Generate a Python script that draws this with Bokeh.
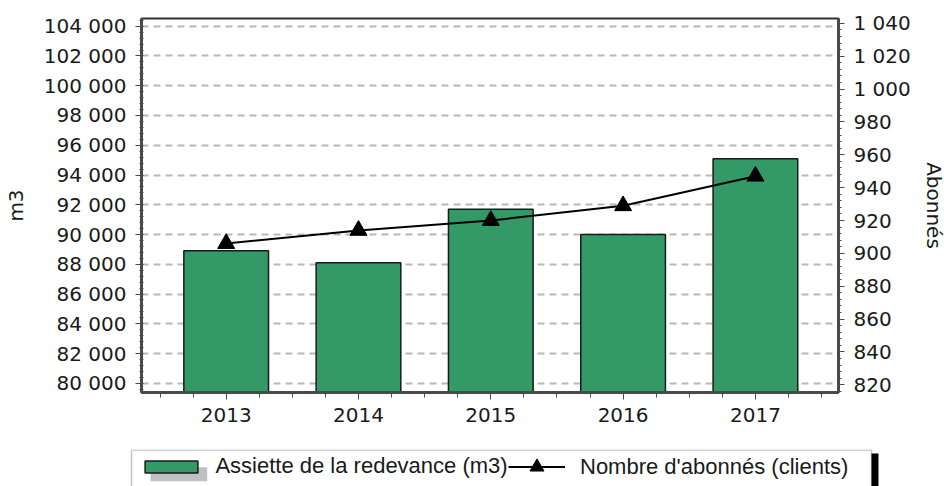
from bokeh.plotting import figure
from bokeh.layouts import column
from bokeh.models import (Range1d, LinearAxis, SingleIntervalTicker, FixedTicker,
                          CustomJSTickFormatter, Legend, LegendItem, BoxAnnotation,
                          ColumnDataSource)
from bokeh.embed import file_html
from bokeh.resources import INLINE

# ---- data ----
years = ["2013", "2014", "2015", "2016", "2017"]
assiette_m3 = [88900, 88100, 91700, 90000, 95100]      # bars, left axis
abonnes = [906, 914, 920, 929, 947]                      # line, right axis

left_range = (79380, 104520)
right_range = (815.3, 1043.0)
left_step = 2000
right_step = 20

TICK_FONT = "DejaVu Sans"
LEG_FONT = "Liberation Sans"
TXT = "#1a1a1a"
GREEN = "#339966"

x = list(range(len(years)))
src = ColumnDataSource(dict(x=x, year=years, vol=assiette_m3, ab=abonnes))

p = figure(frame_width=697, frame_height=374,
           min_border_left=141, min_border_right=106, min_border_top=18, min_border_bottom=57,
           x_range=Range1d(-0.640, 4.628), y_range=Range1d(*left_range),
           output_backend="svg", toolbar_location=None,
           background_fill_color="white", border_fill_color="white")
p.frame_align = False
p.outline_line_color = "#333333"
p.outline_line_width = 2

fmt = CustomJSTickFormatter(code=r"return Math.round(tick).toString().replace(/\B(?=(\d{3})+(?!\d))/g, ' ');")

def style_axis(ax):
    ax.axis_line_color = "#4a4a4a"
    ax.axis_line_width = 3
    ax.major_tick_line_color = "#4a4a4a"
    ax.minor_tick_line_color = "#4a4a4a"
    ax.major_tick_line_width = 1
    ax.minor_tick_line_width = 1
    ax.major_label_text_font = TICK_FONT
    ax.major_label_text_font_size = "20px"
    ax.major_label_text_color = TXT
    ax.axis_label_text_font = TICK_FONT
    ax.axis_label_text_font_size = "20px"
    ax.axis_label_text_font_style = "normal"
    ax.axis_label_text_color = TXT

# left axis
yl = p.yaxis[0]
yl.ticker = SingleIntervalTicker(interval=left_step, num_minor_ticks=5)
yl.formatter = fmt
yl.axis_label = "m3"
style_axis(yl)
yl.major_tick_out = 6
yl.major_tick_in = 0
yl.minor_tick_out = 2
yl.minor_tick_in = 2
yl.major_label_standoff = 9
yl.axis_label_standoff = 13

# bottom axis
xb = p.xaxis[0]
xb.ticker = FixedTicker(ticks=x, minor_ticks=[-0.5 + 0.25 * i for i in range(4 * len(years) + 1)])
xb.major_label_overrides = {i: y for i, y in enumerate(years)}
style_axis(xb)
xb.major_tick_out = 7
xb.major_tick_in = 0
xb.minor_tick_out = 5
xb.minor_tick_in = 0
xb.major_label_standoff = 8

# right axis
p.extra_y_ranges = {"ab": Range1d(*right_range)}
yr = LinearAxis(y_range_name="ab", axis_label="Abonnés",
                ticker=SingleIntervalTicker(interval=right_step, num_minor_ticks=5),
                formatter=fmt)
style_axis(yr)
yr.major_tick_out = 6
yr.major_tick_in = 0
yr.minor_tick_out = 3
yr.minor_tick_in = 0
yr.major_label_standoff = 9
yr.axis_label_standoff = 8
p.add_layout(yr, "right")

# grid
p.xgrid.visible = False
p.ygrid.grid_line_color = "#b8b8b8"
p.ygrid.grid_line_width = 2
p.ygrid.grid_line_dash = "7 5"

# glyphs
BAR_STYLE = dict(fill_color=GREEN, line_color="#1a1a1a", line_width=1.5)
LINE_STYLE = dict(line_color="black", line_width=2)
MK_STYLE = dict(marker="triangle", fill_color="black", line_color="black")

p.vbar(x="x", top="vol", bottom=left_range[0], width=0.64, source=src, **BAR_STYLE)
p.line(x="x", y="ab", y_range_name="ab", source=src, **LINE_STYLE)
p.scatter(x="x", y="ab", y_range_name="ab", source=src, size=17, **MK_STYLE)

# ---- legend strip (separate figure below, frame covers its whole canvas) ----
LH = 37
q = figure(width=944, height=LH, min_border=0,
           min_border_left=0, min_border_right=0, min_border_top=0, min_border_bottom=0,
           x_range=Range1d(0, 944), y_range=Range1d(LH, 0),
           x_axis_type=None, y_axis_type=None, output_backend="svg", toolbar_location=None,
           background_fill_color="white", border_fill_color="white")
q.frame_align = False
q.outline_line_color = None
q.grid.visible = False

q.add_layout(BoxAnnotation(left=131, right=871, top=0.5, bottom=LH + 5,
                           fill_color="white", fill_alpha=1, line_color="#404040", line_width=1.5))
q.add_layout(BoxAnnotation(left=871, right=878, top=4, bottom=LH + 5,
                           fill_color="black", fill_alpha=1, line_alpha=0))
q.add_layout(BoxAnnotation(left=150, right=206.7, top=17.7, bottom=31.7,
                           fill_color="#c0c0c0", fill_alpha=1, line_alpha=0))

# hidden renderers that only provide the legend glyphs
lb = q.vbar(x="x", top="vol", width=1, source=src, visible=False, **BAR_STYLE)
ll = q.line(x="x", y="ab", source=src, visible=False, **LINE_STYLE)
lm = q.scatter(x="x", y="ab", size=14, source=src, visible=False, **MK_STYLE)

def make_legend(item, loc, gw, gh, standoff):
    return Legend(items=[item], location=loc, orientation="horizontal",
                  padding=0, spacing=0, margin=0,
                  border_line_alpha=0, background_fill_alpha=0,
                  glyph_width=gw, glyph_height=gh, label_standoff=standoff,
                  label_text_font=LEG_FONT, label_text_font_size="22px",
                  label_text_color=TXT)

q.add_layout(make_legend(LegendItem(label="Assiette de la redevance (m3)", renderers=[lb]),
                         (138.4, 7), 66, 15, 11))
q.add_layout(make_legend(LegendItem(label="Nombre d'abonnés (clients)", renderers=[ll, lm]),
                         (508, 2), 57, 35, 15))

page = column(p, q, spacing=0)
open("out.html", "w").write(file_html(page, INLINE))
